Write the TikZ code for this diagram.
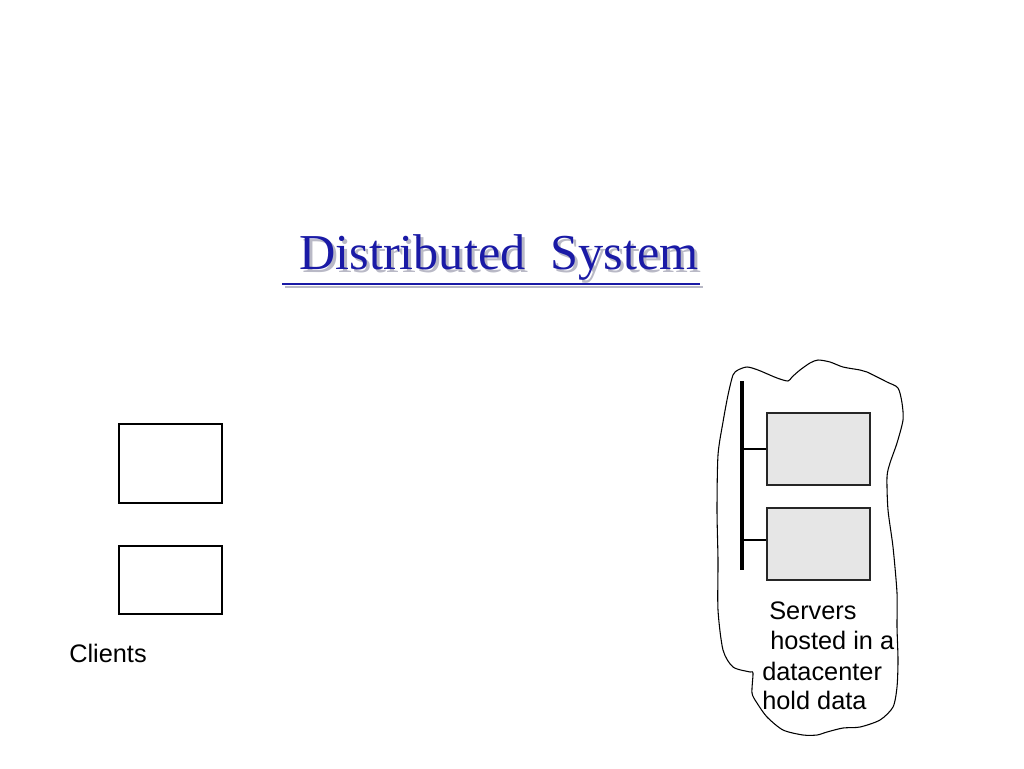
\documentclass[tikz,border=0pt]{standalone}
\usepackage{fontspec}
\setmainfont{Liberation Sans}
\newfontfamily\titlefont{Liberation Serif}
\definecolor{titleblue}{RGB}{26,26,166}
\definecolor{shadowgray}{RGB}{185,185,198}
\definecolor{srvfill}{RGB}{230,230,230}
\begin{document}
\begin{tikzpicture}[x=0.75pt,y=-0.75pt,
  clientbox/.style={draw=black,line width=0.9pt,fill=white},
  serverbox/.style={draw=black!85,line width=0.9pt,fill=srvfill},
  label/.style={font=\fontsize{19pt}{23pt}\selectfont,inner sep=0pt,anchor=base west},
  titletext/.style={font=\titlefont\fontsize{37.7pt}{45pt}\selectfont,inner sep=0pt,anchor=base west},
  link/.style={draw=black,line width=0.9pt},
  bus/.style={draw=black,line width=3.4pt}]
\useasboundingbox (0,0) rectangle (1024,768);
\fill[white] (0,0) rectangle (1024,768);
% title with shadow (one node)
\draw[shadowgray,line width=2pt] (285,287) -- (703,287);
\node[titletext] (title) at (299,269) {\makebox[0pt][l]{\hspace{2.25pt}\raisebox{-2.25pt}{\textcolor{shadowgray}{Distributed\hspace{0.5em}System}}}\textcolor{titleblue}{Distributed\hspace{0.5em}System}};
\draw[titleblue,line width=2pt] (282,284) -- (700,284);
% clients
\node[clientbox,inner sep=0pt,minimum width=103*0.75pt,minimum height=79*0.75pt] (c1) at (170.5,463.5) {};
\node[clientbox,inner sep=0pt,minimum width=103*0.75pt,minimum height=68*0.75pt] (c2) at (170.5,580) {};
\node[label] (clients) at (69,662) {Clients};
% datacenter blob
\draw[black,line width=0.8pt] plot[smooth cycle,tension=0.45] coordinates {
 (738,370) (747,367) (758,370) (777,378) (788,381) (792,377) (800,370) (810,363)
 (818,360) (830,362) (843,367) (860,370) (867,372) (887,382) (898,388) (902,403)
 (903,420) (897,443) (890,463) (887,477) (888,510) (893,547) (897,593) (897,627)
 (898,660) (897,687) (893,707) (880,720) (860,727) (843,728) (827,732) (817,735)
 (803,735) (783,730) (767,717) (757,703) (752,693) (753,673) (750,672) (733,667)
 (723,650) (718,610) (718,560) (717,510) (718,455) (723,422) (728,395) (733,375)};
% servers
\node[serverbox,minimum width=103*0.75pt,minimum height=72*0.75pt,inner sep=0pt] (s1) at (818.5,449) {};
\node[serverbox,minimum width=103*0.75pt,minimum height=72*0.75pt,inner sep=0pt] (s2) at (818.5,544) {};
\coordinate (bustop) at (742,381);
\coordinate (busbot) at (742,570);
\draw[bus] (bustop) -- (busbot);
\coordinate (j1) at (742,449);
\coordinate (j2) at (742,540);
\draw[link] (j1) -- (s1.west |- j1);
\draw[link] (j2) -- (s2.west |- j2);
% server text
\node[label] (l1) at (769,619) {Servers};
\node[label] (l2) at (770,649) {hosted in a};
\node[label] (l3) at (762,680) {datacenter};
\node[label] (l4) at (762,709) {hold data};
\end{tikzpicture}
\end{document}
